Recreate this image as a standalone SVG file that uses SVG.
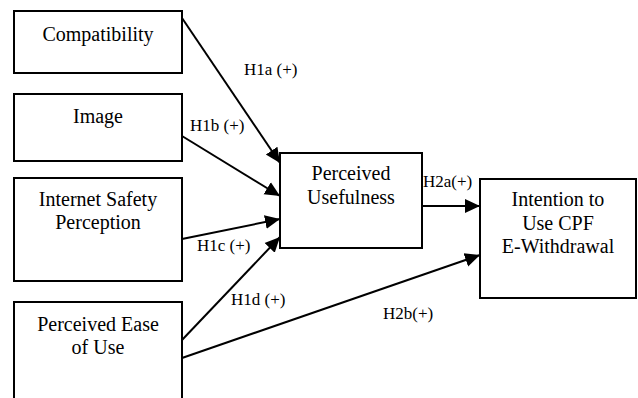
<svg xmlns="http://www.w3.org/2000/svg" width="638" height="398" viewBox="0 0 638 398">
<style>
.box{fill:#fff;stroke:#000;stroke-width:2}
.t{font-size:20px;fill:#000;text-anchor:middle}
.l{font-size:17px;fill:#000}
.c{stroke:#000;stroke-width:2;fill:none;marker-end:url(#ah)}
</style>
<defs>
<marker id="ah" markerUnits="userSpaceOnUse" markerWidth="16" markerHeight="16" refX="15" refY="7" orient="auto" viewBox="0 0 16 14">
<path d="M0,0 L15,7 L0,14 Z" fill="#000"/>
</marker>
</defs>
<rect width="638" height="398" fill="#fff"/>
<g font-family="'Liberation Serif', 'Times New Roman', serif">
<g id="connectors">
<line class="c" x1="182" y1="18" x2="280" y2="163"/>
<line class="c" x1="182" y1="136" x2="280" y2="196"/>
<line class="c" x1="182" y1="239" x2="280" y2="219"/>
<line class="c" x1="182" y1="340" x2="280" y2="237"/>
<line class="c" x1="422" y1="206" x2="480" y2="206"/>
<line class="c" x1="182" y1="358" x2="480" y2="255"/>
<text class="l" x="244" y="75">H1a (+)</text>
<text class="l" x="190" y="131">H1b (+)</text>
<text class="l" x="197" y="251">H1c (+)</text>
<text class="l" x="231" y="305">H1d (+)</text>
<text class="l" x="423" y="187" font-size="18.5">H2a(+)</text>
<text class="l" x="383" y="319">H2b(+)</text>
</g>
<g id="compatibility">
<rect class="box" x="14" y="11" width="168" height="62"/>
<text class="t" x="98" y="41">Compatibility</text>
</g>
<g id="image">
<rect class="box" x="14" y="94" width="168" height="67"/>
<text class="t" x="98" y="123">Image</text>
</g>
<g id="internet-safety">
<rect class="box" x="14" y="178" width="168" height="103"/>
<text class="t" x="98" y="206">Internet Safety</text>
<text class="t" x="98" y="229">Perception</text>
</g>
<g id="ease-of-use">
<rect class="box" x="14" y="302" width="168" height="110"/>
<text class="t" x="98" y="331">Perceived Ease</text>
<text class="t" x="98" y="354">of Use</text>
</g>
<g id="usefulness">
<rect class="box" x="280" y="153" width="142" height="95"/>
<text class="t" x="351" y="180">Perceived</text>
<text class="t" x="351" y="204">Usefulness</text>
</g>
<g id="intention">
<rect class="box" x="480" y="179" width="156" height="119"/>
<text class="t" x="558" y="206">Intention to</text>
<text class="t" x="558" y="230">Use CPF</text>
<text class="t" x="558" y="253">E-Withdrawal</text>
</g>
</g>
</svg>
